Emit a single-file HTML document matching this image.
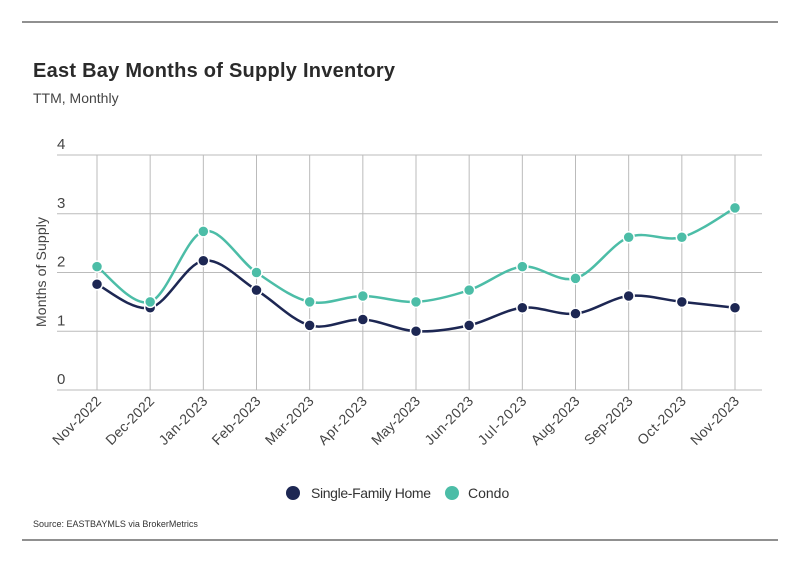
<!DOCTYPE html>
<html><head><meta charset="utf-8"><style>
body{margin:0;background:#fff;font-family:"Liberation Sans",sans-serif;}
svg text{font-family:"Liberation Sans",sans-serif;}
</style></head><body>
<svg width="799" height="575" viewBox="0 0 799 575" xmlns="http://www.w3.org/2000/svg">
<line x1="22" y1="22" x2="778" y2="22" stroke="#222" stroke-width="1"/>
<text x="33" y="77" font-size="20" font-weight="bold" fill="#2a2a2a" textLength="362">East Bay Months of Supply Inventory</text>
<text x="33" y="103" font-size="14" fill="#444">TTM, Monthly</text>
<text transform="translate(46,272) rotate(-90)" text-anchor="middle" font-size="14" fill="#444" textLength="110">Months of Supply</text>
<g id="grid"></g><g id="series"></g>
<g>
<circle cx="293" cy="493" r="7" fill="#1d2753"/>
<text x="311" y="498" font-size="14" fill="#333" textLength="120">Single-Family Home</text>
<circle cx="452" cy="493" r="7" fill="#4cbda7"/>
<text x="468" y="498" font-size="14" fill="#333">Condo</text>
</g>
<text x="33" y="527" font-size="9" fill="#333">Source:  EASTBAYMLS via BrokerMetrics</text>
<line x1="22" y1="540" x2="778" y2="540" stroke="#222" stroke-width="1"/>
</svg>
<script>
const categories=["Nov-2022","Dec-2022","Jan-2023","Feb-2023","Mar-2023","Apr-2023","May-2023","Jun-2023","Jul-2023","Aug-2023","Sep-2023","Oct-2023","Nov-2023"];
const sfhValues=[1.8,1.4,2.2,1.7,1.1,1.2,1.0,1.1,1.4,1.3,1.6,1.5,1.4];
const condoValues=[2.1,1.5,2.7,2.0,1.5,1.6,1.5,1.7,2.1,1.9,2.6,2.6,3.1];
const yTicks=[0,1,2,3,4];
const NS="http://www.w3.org/2000/svg";
function x(i){return 97+i*(735-97)/(categories.length-1);}
function y(v){return 390-v*58.75;}
const grid=document.getElementById('grid'),ser=document.getElementById('series');
function mk(tag,attrs,parent){const e=document.createElementNS(NS,tag);for(const k in attrs)e.setAttribute(k,attrs[k]);parent.appendChild(e);return e;}
yTicks.forEach(t=>{
 const l=mk('line',{x1:57,x2:762,y1:y(t),y2:y(t),stroke:'#bbb','stroke-width':1},grid);
 
 
 const tx=mk('text',{x:57,y:y(t)-6,'font-size':15,fill:'#444'},grid);tx.textContent=t;
 
 
});
categories.forEach((c,i)=>{
 const l=mk('line',{x1:x(i),x2:x(i),y1:y(4),y2:y(0),stroke:'#bbb','stroke-width':1},grid);
 
 
 const tx=mk('text',{transform:`translate(${x(i)+5},${y(0)+12}) rotate(-45)`,'text-anchor':'end','font-size':14,fill:'#444',textLength:62},grid);tx.textContent=c;
 
 
});
function path(vals){const p=vals.map((v,i)=>[x(i),y(v)]);let d=`M${p[0][0]},${p[0][1]}`;
 for(let i=0;i<p.length-1;i++){const p0=p[i-1]||p[i],p1=p[i],p2=p[i+1],p3=p[i+2]||p2;const k=1/6;
 d+=` C${p1[0]+(p2[0]-p0[0])*k},${p1[1]+(p2[1]-p0[1])*k} ${p2[0]-(p3[0]-p1[0])*k},${p2[1]-(p3[1]-p1[1])*k} ${p2[0]},${p2[1]}`;}return d;}
[[sfhValues,'#1d2753','sfh'],[condoValues,'#4cbda7','condo']].forEach(([vals,col,nm])=>{
 const pa=mk('path',{d:path(vals),fill:'none',stroke:col,'stroke-width':2.5},ser);
 
 
 vals.forEach((v,i)=>{const c=mk('circle',{cx:x(i),cy:y(v),r:5.5,fill:col,stroke:'#fff','stroke-width':1.5},ser);
 
 });
});
</script>
</body></html>
